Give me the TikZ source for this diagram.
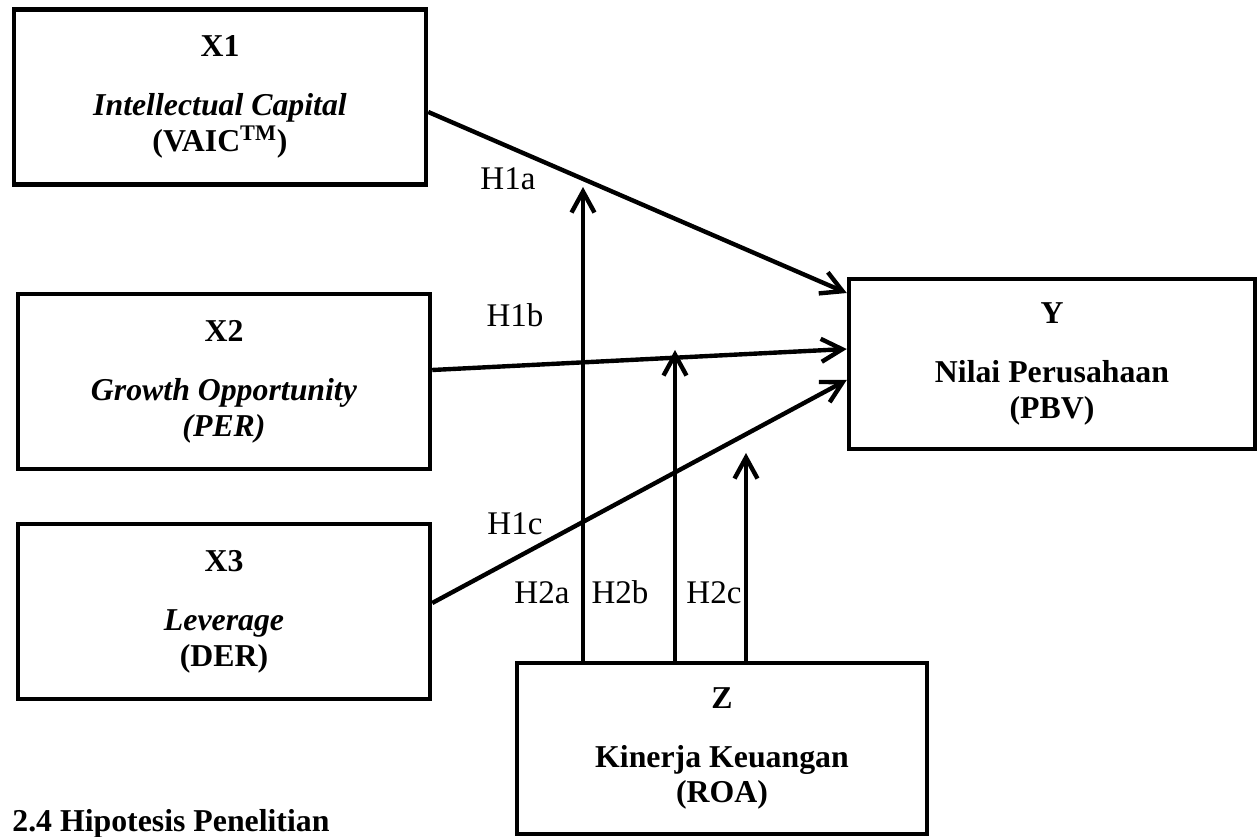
\documentclass[tikz,border=0pt]{standalone}
\usepackage{fontspec}
\setmainfont{Liberation Serif}
\usetikzlibrary{arrows.meta}

\begin{document}
\begin{tikzpicture}[x=0.02cm, y=-0.02cm,
		font=\fontsize{18.8}{21}\selectfont,
		var/.style={draw, line width=2.6pt, inner sep=0, align=center, minimum width=8.24cm, minimum height=3.5cm, font=\fontsize{18.1}{20.4}\selectfont\bfseries},
		link/.style={line width=2.5pt, -{Straight Barb[length=0.42cm, width=0.46cm, line width=2.5pt]}},
		hyp/.style={inner sep=0, anchor=base}]
		\clip (0,0) rectangle (1259,837);
		\node [var] (x1) at (220,97) {X1\\[13.2pt]\textit{Intellectual Capital}\\(VAIC\textsuperscript{TM})};
		\node [var] (x2) at (224,381.5) {X2\\[13.2pt]\textit{Growth Opportunity}\\\textit{(PER)}};
		\node [var] (x3) at (224,611.5) {X3\\[13.2pt]\textit{Leverage}\\(DER)};
		\node [var, minimum width=8.12cm, minimum height=3.4cm] (y) at (1052,364) {Y\\[13.2pt]Nilai Perusahaan\\(PBV)};
		\node [var, minimum width=8.2cm, minimum height=3.42cm] (z) at (722,748.5) {Z\\[13.2pt]Kinerja Keuangan\\(ROA)};
		% tips of the moderating arrows
		\coordinate (t2a) at (583,187);
		\coordinate (t2b) at (675,350);
		\coordinate (t2c) at (746,453);
		\draw[link] ([yshift=-0.3cm]x1.east) -- ([yshift=1.42cm]y.west);
		\draw[link] ([yshift=0.23cm]x2.east) -- ([yshift=0.3cm]y.west);
		\draw[link] ([yshift=0.17cm]x3.east) -- ([yshift=-0.32cm]y.west);
		\draw[link] (t2a |- z.north) -- (t2a);
		\draw[link] (t2b |- z.north) -- (t2b);
		\draw[link] (t2c |- z.north) -- (t2c);
		\node [hyp] (h1a) at (508,190) {H1a};
		\node [hyp] (h1b) at (515,327) {H1b};
		\node [hyp] (h1c) at (515,535) {H1c};
		\node [hyp] (h2a) at (542,604) {H2a};
		\node [hyp] (h2b) at (620,604) {H2b};
		\node [hyp] (h2c) at (714,604) {H2c};
		\node [hyp, anchor=base west, font=\fontsize{18.1}{20.4}\selectfont\bfseries] (sect) at (12,832) {2.4 Hipotesis Penelitian};
	\end{tikzpicture}
\end{document}
